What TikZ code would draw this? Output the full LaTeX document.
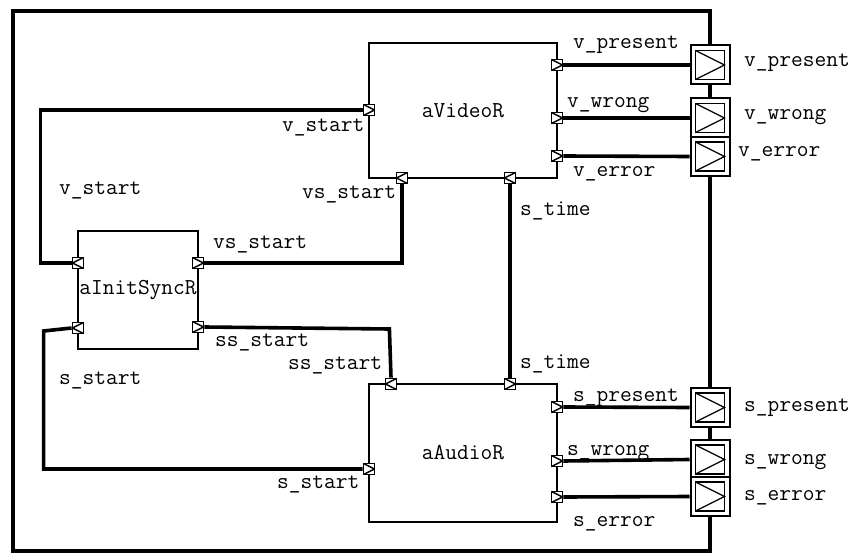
\documentclass[tikz,border=0pt]{standalone}
\usetikzlibrary{positioning}

\begin{document}
\begin{tikzpicture}[
    x=1pt, y=-1pt,
    every node/.style={font=\ttfamily\fontsize{22.8}{26}\selectfont},
    actor/.style={draw, line width=1.3pt, fill=white, inner sep=0},
    portR/.style={draw, fill=white, line width=1.8pt, minimum size=11pt, inner sep=0,
        path picture={\draw[line width=1.4pt] (path picture bounding box.north west) -- (path picture bounding box.east) -- (path picture bounding box.south west);}},
    portL/.style={draw, fill=white, line width=1.8pt, minimum size=11pt, inner sep=0,
        path picture={\draw[line width=1.4pt] (path picture bounding box.north east) -- (path picture bounding box.west) -- (path picture bounding box.south east);}},
    relay/.style={draw, fill=white, line width=2pt, minimum size=39pt, inner sep=0,
        path picture={\draw[line width=1.8pt] ([shift={(5pt,-5pt)}]path picture bounding box.north west) rectangle ([shift={(-5pt,5pt)}]path picture bounding box.south east);
                      \draw[line width=1.3pt] ([shift={(5pt,-5pt)}]path picture bounding box.north west) -- ([shift={(-5pt,0pt)}]path picture bounding box.east) -- ([shift={(5pt,5pt)}]path picture bounding box.south west);}},
    lbl/.style={inner sep=0, anchor=base west},
    wire/.style={line width=3.6pt}
]
\useasboundingbox (0,0) rectangle (856,556);
% outer capsule
\draw[line width=4.8pt] (13,11) rectangle (710,551);

% actors
\node[actor, minimum width=188pt, minimum height=135pt] (video) at (463,110.5) {aVideoR};
\node[actor, minimum width=188pt, minimum height=138pt] (audio) at (463,453) {aAudioR};
\node[actor, minimum width=120pt, minimum height=118pt] (init) at (138,290) {aInitSyncR};

% relay ports on the capsule border
\node[relay] (rvp) at (710,65) {};
\node[relay] (rvw) at (710,118) {};
\node[relay] (rve) at (710,156.5) {};
\node[relay] (rsp) at (710,407.5) {};
\node[relay] (rsw) at (710,459.5) {};
\node[relay] (rse) at (710,496.5) {};

% ports of aVideoR
\node[portR] (vStart) at (369,110) {};
\node[portL] (vsS) at (402,178) {};
\node[portL] (vsT) at (510,178) {};
\node[portR] (vPres) at (557,65) {};
\node[portR] (vWrong) at (557,118) {};
\node[portR] (vErr) at (557,156) {};
% ports of aInitSyncR
\node[portL] (iV) at (78,263) {};
\node[portL] (iS) at (78,328) {};
\node[portR] (iVS) at (198,263) {};
\node[portR] (iSS) at (198,327) {};
% ports of aAudioR
\node[portL] (aSS) at (391,384) {};
\node[portR] (aT) at (510,384) {};
\node[portR] (aStart) at (369,469) {};
\node[portR] (aPres) at (557,407) {};
\node[portR] (aWrong) at (557,461) {};
\node[portR] (aErr) at (557,497) {};

% connectors
\draw[wire] (iV.west) -- ++(-31,0) |- (vStart.west);
\draw[wire] (iVS.east) -| (vsS.south);
\draw[wire] (iSS.east) -- ++(185,2) -- (aSS.north);
\draw[wire] (iS.west) -- ++(-28,3) |- (aStart.west);
\draw[wire] (vsT.south) -- (aT.north);
\draw[wire] (vPres.east) -- (rvp.west);
\draw[wire] (vWrong.east) -- (rvw.west);
\draw[wire] (vErr.east) -- (rve.west);
\draw[wire] (aPres.east) -- (rsp.west);
\draw[wire] (aWrong.east) -- (rsw.west);
\draw[wire] (aErr.east) -- (rse.west);

% labels
\node[lbl] (lvp) at (573,49) {v\_present};
\node[lbl] (lvw) at (567,108) {v\_wrong};
\node[lbl] (lve) at (573,177) {v\_error};
\node[lbl] (lrvp) at (744,67) {v\_present};
\node[lbl] (lrvw) at (744,120) {v\_wrong};
\node[lbl] (lrve) at (738,157) {v\_error};
\node[lbl] (lsp) at (573,401) {s\_present};
\node[lbl] (lsw) at (567,455) {s\_wrong};
\node[lbl] (lse) at (573,526) {s\_error};
\node[lbl] (lrsp) at (744,411) {s\_present};
\node[lbl] (lrsw) at (744,464) {s\_wrong};
\node[lbl] (lrse) at (744,500) {s\_error};
\node[lbl] (lvs1) at (282,132) {v\_start};
\node[lbl] (lvss1) at (302,198) {vs\_start};
\node[lbl] (lvs2) at (59,195) {v\_start};
\node[lbl] (lvss2) at (213,248) {vs\_start};
\node[lbl] (lsss2) at (215,346) {ss\_start};
\node[lbl] (lsss1) at (288,369) {ss\_start};
\node[lbl] (lss2) at (59,384) {s\_start};
\node[lbl] (lss1) at (277,488) {s\_start};
\node[lbl] (lst1) at (520,215) {s\_time};
\node[lbl] (lst2) at (520,368) {s\_time};
\end{tikzpicture}
\end{document}
